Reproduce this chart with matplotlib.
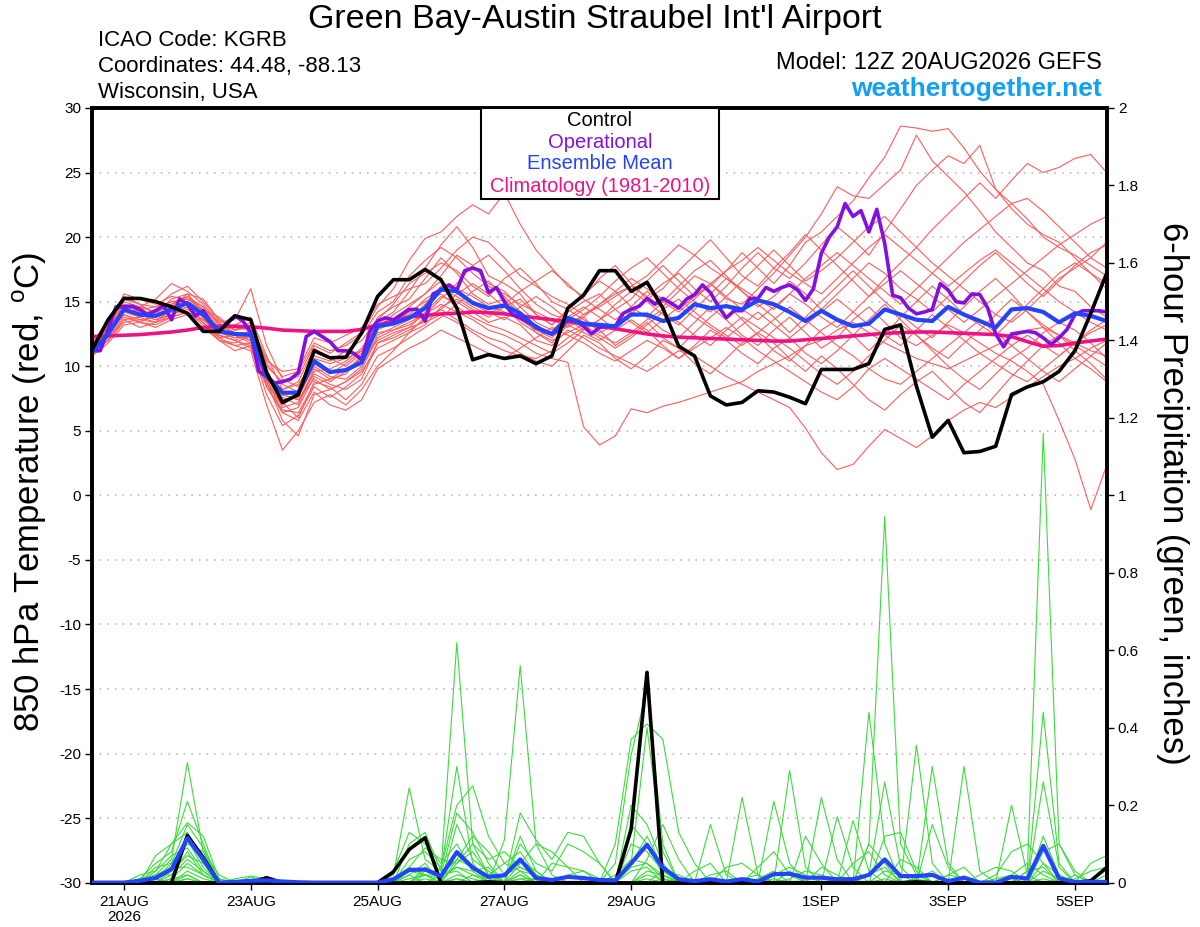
import numpy as np
import pandas as pd
import matplotlib
matplotlib.use("Agg")
import matplotlib.pyplot as plt
from matplotlib.patches import Rectangle

plt.rcParams['font.family'] = ['Liberation Sans', 'DejaVu Sans']
plt.rcParams['axes.unicode_minus'] = False

# time axis: GEFS 12Z 20AUG2026 run, 6-hourly (operational 3-hourly)
times = pd.date_range("2026-08-20 12:00", periods=65, freq="6h")
times_op = pd.date_range("2026-08-20 12:00", periods=129, freq="3h")

tick_times = pd.to_datetime(["2026-08-21", "2026-08-23", "2026-08-25", "2026-08-27",
                             "2026-08-29", "2026-09-01", "2026-09-03", "2026-09-05"])
tick_labels = ["21AUG\n2026", "23AUG", "25AUG", "27AUG", "29AUG", "1SEP", "3SEP", "5SEP"]

# ---- 850 hPa temperature (C) ----
control_t = [11.3, 13.6, 15.25, 15.25, 15.0, 14.6, 14.1, 12.7, 12.7, 13.9,
             13.6, 9.5, 7.2, 7.8, 11.2, 10.65, 10.7, 12.6, 15.4, 16.7,
             16.7, 17.5, 16.7, 14.5, 10.5, 10.9, 10.6, 10.8, 10.2, 10.8,
             14.5, 15.5, 17.4, 17.4, 15.8, 16.5, 14.5, 11.55, 10.8, 7.7,
             7.0, 7.2, 8.1, 8.0, 7.6, 7.1, 9.75, 9.75, 9.75, 10.2,
             12.85, 13.2, 8.45, 4.5, 5.8, 3.3, 3.4, 3.8, 7.8, 8.4,
             8.8, 9.6, 11.2, 14.1, 17.2]

mean_t = [11.1, 12.5, 14.4, 14.0, 13.9, 14.4, 14.9, 14.0, 12.7, 12.5,
          12.45, 9.2, 7.95, 7.95, 10.4, 9.55, 9.7, 10.3, 13.1, 13.3,
          13.75, 14.5, 15.95, 15.8, 14.9, 14.5, 14.7, 14.1, 13.0, 12.5,
          13.75, 13.3, 13.2, 13.1, 14.0, 14.0, 13.5, 13.75, 14.8, 14.5,
          14.65, 14.4, 15.1, 14.8, 14.2, 13.5, 14.3, 13.6, 13.1, 13.3,
          14.4, 14.0, 13.6, 13.5, 14.6, 14.0, 13.5, 13.0, 14.4, 14.5,
          14.2, 13.4, 14.1, 13.9, 13.5]

clim_t = [12.3, 12.35, 12.4, 12.45, 12.55, 12.65, 12.8, 13.0, 13.1, 13.1,
          13.05, 12.95, 12.8, 12.75, 12.7, 12.7, 12.7, 12.85, 13.2, 13.5,
          13.8, 13.95, 14.05, 14.1, 14.2, 14.15, 14.05, 13.9, 13.75, 13.6,
          13.45, 13.3, 13.1, 12.9, 12.7, 12.5, 12.35, 12.25, 12.2, 12.15,
          12.1, 12.05, 12.0, 11.95, 11.95, 12.05, 12.15, 12.25, 12.35, 12.45,
          12.55, 12.6, 12.65, 12.65, 12.6, 12.55, 12.5, 12.45, 12.3, 11.9,
          11.55, 11.6, 11.8, 11.95, 12.1]

oper_t = [11.2, 11.2, 12.85, 14.6, 14.6, 14.65, 14.4, 14.0, 14.3, 14.7,
          13.6, 15.2, 14.8, 13.9, 14.3, 13.4, 12.7, 13.4, 13.9, 13.5,
          12.6, 9.6, 9.2, 8.7, 8.8, 9.0, 9.5, 12.3, 12.7, 12.3,
          11.9, 11.2, 11.2, 11.0, 10.5, 12.7, 13.5, 13.75, 13.6, 14.0,
          14.4, 14.4, 13.5, 15.6, 15.9, 16.3, 15.9, 17.4, 17.6, 17.4,
          15.7, 16.1, 15.0, 14.0, 13.75, 13.4, 13.1, 12.7, 12.5, 12.85,
          13.6, 13.5, 13.1, 12.5, 13.0, 13.1, 13.1, 14.1, 14.4, 14.65,
          15.25, 14.8, 15.25, 14.9, 14.5, 15.2, 15.55, 16.3, 15.7, 14.65,
          13.75, 14.3, 14.3, 15.25, 15.25, 16.1, 15.8, 16.1, 16.3, 15.9,
          15.1, 16.0, 18.75, 20.0, 20.8, 22.6, 21.6, 22.05, 20.4, 22.15,
          19.5, 15.5, 15.3, 14.5, 14.06, 14.2, 14.4, 16.4, 15.9, 15.0,
          14.9, 15.6, 15.55, 14.5, 12.5, 11.5, 12.5, 12.6, 12.7, 12.6,
          12.2, 11.7, 12.2, 12.85, 14.0, 14.3, 14.3, 14.3, 14.2]

t_m01 = [11.0, 12.8, 14.8, 14.2, 14.0, 15.2, 15.6, 14.2, 12.4, 12.0,
         12.6, 9.0, 6.8, 7.2, 9.8, 9.0, 9.4, 10.8, 13.8, 14.6,
         15.2, 16.8, 18.4, 17.2, 15.6, 14.8, 15.2, 14.0, 12.6, 11.8,
         13.2, 14.0, 14.8, 15.6, 16.2, 15.4, 14.6, 15.8, 17.0, 16.4,
         15.2, 14.8, 16.0, 17.2, 18.6, 20.0, 21.8, 23.9, 23.2, 23.0,
         24.1, 25.2, 27.9, 25.9, 24.7, 23.5, 22.0, 20.4, 19.2, 18.0,
         17.4, 16.2, 15.8, 14.6, 13.8]
t_m02 = [11.4, 13.2, 15.0, 14.6, 14.2, 14.8, 15.4, 14.6, 13.2, 12.8,
         13.4, 10.2, 8.6, 8.0, 10.6, 10.2, 10.6, 11.2, 13.4, 14.2,
         15.8, 17.6, 19.4, 20.8, 19.2, 17.0, 16.4, 15.6, 14.0, 13.2,
         14.2, 15.0, 15.6, 14.4, 15.2, 16.6, 17.8, 16.6, 15.4, 16.2,
         17.4, 18.8, 17.6, 16.4, 17.8, 19.6, 20.4, 21.6, 22.8, 24.6,
         26.2, 28.6, 28.45, 28.2, 28.4, 26.9, 25.1, 23.7, 22.2, 21.0,
         20.2, 19.6, 18.4, 17.2, 16.0]
t_m03 = [11.2, 12.4, 14.0, 13.6, 13.8, 14.2, 14.6, 13.4, 12.2, 12.4,
         12.0, 8.4, 6.4, 6.8, 9.2, 8.6, 8.2, 9.0, 11.8, 12.4,
         13.0, 14.2, 15.4, 15.0, 14.2, 13.4, 13.8, 13.2, 12.0, 11.6,
         12.8, 12.2, 11.4, 10.8, 10.2, 9.6, 10.4, 11.2, 10.8, 10.0,
         9.2, 8.6, 8.0, 7.4, 6.8, 5.2, 3.3, 2.0, 2.4, 3.8,
         5.1, 4.4, 3.7, 4.6, 5.8, 6.6, 7.2, 6.8, 7.6, 8.4,
         9.2, 10.0, 10.6, 11.4, 12.0]
t_m04 = [11.6, 13.0, 14.6, 14.0, 13.6, 14.0, 14.4, 13.6, 12.8, 13.2,
         13.8, 10.8, 8.2, 8.6, 10.4, 9.6, 9.8, 10.6, 12.6, 12.8,
         13.4, 14.0, 14.8, 14.2, 13.6, 12.8, 12.4, 11.8, 11.0, 10.6,
         10.3, 5.3, 3.9, 4.6, 6.7, 6.4, 6.9, 7.2, 7.6, 8.0,
         8.4, 8.8, 9.6, 10.2, 10.8, 11.6, 12.0, 12.8, 13.4, 12.6,
         11.8, 11.2, 10.6, 10.2, 9.8, 10.4, 11.0, 11.6, 12.2, 12.8,
         13.0, 12.4, 11.8, 11.2, 10.8]
t_m05 = [11.0, 12.0, 13.6, 13.8, 14.4, 15.0, 15.2, 14.4, 13.0, 12.6,
         12.2, 9.6, 7.4, 7.6, 10.0, 9.2, 9.0, 10.0, 12.4, 13.0,
         13.6, 14.8, 16.2, 16.0, 15.4, 14.6, 14.2, 13.6, 12.8, 12.2,
         13.4, 13.8, 12.6, 13.2, 14.2, 13.8, 12.8, 12.2, 13.4, 14.6,
         13.6, 12.4, 11.6, 12.8, 13.8, 12.6, 11.4, 12.2, 13.6, 14.6,
         13.4, 12.2, 11.6, 12.4, 13.2, 12.6, 11.8, 11.0, 10.4, 9.6,
         8.6, 5.8, 2.8, -1.1, 2.3]
t_m06 = [11.8, 13.6, 15.4, 14.8, 14.6, 15.6, 16.2, 15.0, 13.6, 13.0,
         12.8, 10.0, 8.8, 9.2, 11.6, 11.0, 11.8, 12.6, 14.6, 16.0,
         18.2, 19.9, 20.4, 21.6, 22.5, 21.8, 23.4, 21.0, 19.0, 17.6,
         16.2, 15.4, 16.8, 17.8, 16.4, 15.2, 16.0, 17.4, 18.6, 19.8,
         18.4, 17.0, 16.2, 17.6, 18.8, 20.2, 19.0, 17.8, 16.6, 15.4,
         16.8, 18.0, 19.2, 20.6, 21.8, 23.0, 24.2, 23.0, 24.4, 25.7,
         25.0, 25.4, 26.1, 26.4, 25.0]
t_m07 = [11.2, 12.6, 14.2, 14.4, 14.6, 15.0, 15.0, 14.0, 12.6, 12.2,
         12.4, 9.4, 7.6, 7.0, 9.6, 9.8, 10.4, 11.4, 13.2, 13.6,
         14.6, 15.6, 17.0, 18.6, 17.8, 16.4, 15.8, 14.6, 13.4, 12.8,
         13.8, 14.6, 13.8, 12.8, 14.0, 15.4, 16.4, 17.2, 16.0, 15.0,
         16.2, 17.6, 18.8, 17.6, 16.8, 18.0, 19.4, 20.8, 19.8, 18.6,
         20.4, 22.2, 24.0, 25.2, 26.3, 25.7, 27.1, 23.7, 22.6, 21.4,
         20.0, 19.2, 18.6, 17.8, 17.0]
t_m08 = [10.9, 12.2, 13.8, 13.4, 13.2, 13.8, 14.2, 13.2, 12.0, 11.6,
         11.8, 8.8, 5.8, 4.6, 7.8, 8.2, 8.8, 9.6, 11.4, 12.0,
         12.6, 13.2, 14.6, 15.2, 14.4, 13.8, 14.6, 15.2, 14.0, 13.2,
         14.4, 13.6, 12.8, 11.6, 12.4, 13.4, 12.2, 11.4, 12.6, 13.8,
         14.8, 13.6, 12.4, 11.2, 10.4, 11.6, 12.8, 13.6, 12.4, 11.2,
         12.4, 13.8, 15.0, 16.2, 15.2, 14.0, 13.2, 12.4, 13.6, 14.8,
         16.0, 17.2, 18.0, 17.2, 16.4]
t_m09 = [11.4, 12.6, 14.2, 13.8, 13.4, 14.6, 15.0, 13.8, 12.2, 11.6,
         11.2, 7.0, 3.5, 5.0, 7.2, 7.8, 7.0, 8.2, 10.0, 11.2,
         12.6, 13.8, 14.4, 13.6, 12.8, 12.2, 11.8, 11.0, 10.4, 10.0,
         11.2, 12.4, 11.8, 10.6, 9.8, 10.8, 12.0, 11.4, 10.2, 9.4,
         10.6, 11.8, 12.6, 11.8, 10.6, 9.6, 10.8, 9.8, 8.6, 7.4,
         6.6, 7.8, 8.8, 9.6, 8.4, 7.2, 6.4, 7.8, 9.2, 10.4,
         11.6, 12.4, 11.2, 10.2, 9.0]
t_m10 = [11.6, 13.4, 15.2, 14.8, 14.0, 14.4, 14.8, 14.4, 13.4, 13.6,
         16.0, 11.6, 9.0, 8.4, 10.8, 10.4, 11.2, 12.0, 13.6, 14.8,
         16.4, 17.2, 18.0, 17.4, 16.2, 15.4, 16.8, 17.6, 16.4, 15.0,
         14.4, 15.6, 16.6, 15.8, 14.6, 13.8, 15.0, 16.2, 17.4, 18.2,
         17.0, 15.8, 14.6, 15.4, 16.6, 15.6, 14.4, 15.6, 16.8, 18.0,
         17.2, 16.0, 15.2, 14.2, 15.4, 16.6, 17.8, 18.8, 17.6, 16.4,
         15.4, 16.6, 17.8, 18.8, 19.4]
t_m11 = [11.0, 12.4, 14.4, 14.6, 15.2, 16.4, 15.8, 14.8, 13.4, 12.4,
         11.8, 9.2, 7.8, 7.4, 9.4, 8.8, 9.6, 10.8, 13.0, 14.0,
         14.8, 15.6, 16.6, 15.8, 14.8, 14.2, 13.6, 14.6, 15.4, 14.6,
         13.6, 12.8, 13.6, 14.8, 15.8, 15.0, 14.0, 13.2, 14.4, 15.6,
         16.8, 15.8, 14.8, 13.8, 12.6, 13.8, 15.0, 16.2, 17.4, 16.2,
         15.0, 14.0, 13.0, 12.2, 13.4, 14.6, 15.8, 16.8, 15.6, 14.2,
         13.0, 11.8, 10.6, 9.8, 8.8]
t_m12 = [11.3, 12.2, 13.6, 13.0, 13.4, 14.0, 14.6, 13.8, 12.6, 12.2,
         12.8, 9.8, 7.2, 6.0, 8.8, 8.4, 7.4, 8.6, 10.8, 11.4,
         12.2, 13.0, 13.8, 14.8, 15.8, 16.6, 15.4, 14.2, 13.0, 12.4,
         13.2, 12.6, 12.0, 12.8, 13.6, 12.8, 11.6, 10.6, 11.6, 12.8,
         12.0, 11.0, 10.2, 11.4, 12.2, 11.0, 10.2, 11.2, 12.4, 13.6,
         14.8, 13.6, 12.4, 11.4, 10.6, 11.8, 12.8, 14.0, 15.2, 14.2,
         13.2, 12.4, 11.6, 10.8, 10.0]
t_m13 = [11.5, 13.0, 15.6, 15.2, 14.8, 15.4, 15.2, 14.6, 13.2, 12.6,
         12.2, 9.0, 7.8, 7.4, 9.0, 8.2, 8.8, 9.8, 12.2, 12.8,
         13.2, 14.0, 15.2, 16.4, 17.8, 18.6, 17.4, 16.0, 14.8, 14.0,
         13.6, 14.4, 15.4, 16.6, 17.6, 18.4, 17.2, 16.0, 15.0, 14.2,
         15.4, 16.6, 17.8, 19.0, 17.8, 16.6, 17.4, 18.4, 19.6, 20.8,
         21.6, 20.4, 19.2, 18.0, 17.0, 16.0, 15.0, 14.0, 13.4, 14.4,
         15.6, 16.8, 17.6, 18.4, 19.6]
t_m14 = [11.1, 12.0, 13.4, 13.6, 13.4, 13.8, 14.2, 13.6, 12.4, 12.0,
         11.4, 8.4, 6.6, 6.4, 8.6, 9.0, 9.8, 10.4, 12.0, 12.6,
         13.0, 13.4, 14.0, 13.4, 12.6, 11.8, 11.2, 10.8, 10.6, 11.2,
         12.2, 13.0, 12.2, 11.4, 12.2, 13.2, 14.2, 13.4, 12.4, 11.6,
         12.8, 13.8, 13.0, 12.2, 11.4, 10.4, 9.4, 8.6, 9.6, 10.8,
         12.0, 13.2, 12.4, 11.2, 10.0, 9.0, 8.2, 9.4, 10.6, 11.4,
         12.6, 13.4, 12.8, 11.8, 10.6]
t_m15 = [11.7, 13.4, 14.8, 14.2, 13.8, 14.6, 15.6, 15.2, 13.6, 12.8,
         13.0, 10.4, 9.6, 9.8, 12.2, 11.8, 12.4, 13.0, 14.8, 15.4,
         16.0, 16.4, 17.6, 19.0, 20.0, 19.6, 18.4, 17.0, 16.2, 15.4,
         14.8, 14.0, 14.6, 15.4, 16.2, 17.0, 18.2, 19.4, 18.6, 17.6,
         16.8, 16.0, 15.2, 14.4, 15.6, 16.8, 17.8, 18.8, 17.8, 16.8,
         15.8, 14.8, 16.0, 17.2, 18.4, 19.6, 20.6, 21.6, 22.6, 23.0,
         22.0, 20.8, 19.6, 18.4, 17.6]
t_m16 = [10.8, 11.8, 13.2, 13.4, 14.0, 14.4, 14.2, 13.4, 12.0, 11.2,
         11.6, 9.0, 6.4, 5.8, 8.0, 7.0, 6.6, 7.4, 9.8, 10.6,
         11.4, 12.0, 12.8, 12.2, 11.6, 11.0, 10.6, 11.4, 12.2, 13.0,
         12.4, 11.8, 11.0, 10.4, 11.2, 12.0, 11.4, 10.6, 11.4, 12.2,
         13.0, 12.2, 11.2, 10.4, 9.6, 8.8, 8.0, 7.4, 8.4, 9.8,
         10.6, 9.8, 9.0, 8.2, 7.4, 8.6, 9.6, 10.6, 11.6, 12.4,
         11.6, 10.8, 11.8, 12.8, 13.6]
t_m17 = [11.2, 12.8, 14.4, 14.0, 14.4, 14.8, 15.4, 14.2, 12.8, 12.6,
         12.0, 8.6, 7.0, 7.8, 10.2, 9.4, 10.2, 11.2, 13.2, 13.6,
         14.0, 15.2, 16.0, 15.4, 14.6, 14.0, 14.8, 15.8, 16.6, 17.4,
         16.4, 15.2, 14.4, 13.6, 14.6, 15.8, 15.0, 14.2, 15.2, 16.4,
         15.4, 14.4, 13.6, 14.6, 15.6, 14.8, 13.8, 13.0, 14.2, 15.4,
         16.4, 17.4, 16.4, 15.4, 14.4, 13.4, 14.4, 15.4, 16.4, 17.4,
         18.4, 19.4, 20.2, 21.0, 21.6]
t_m18 = [11.4, 12.4, 14.0, 13.4, 13.0, 13.6, 14.0, 13.0, 12.0, 11.8,
         12.4, 9.4, 8.2, 8.8, 11.4, 10.6, 10.0, 11.0, 12.8, 13.4,
         14.2, 15.0, 15.6, 14.6, 13.8, 13.2, 12.8, 12.2, 11.6, 11.0,
         11.8, 12.8, 13.6, 14.4, 13.4, 12.6, 13.6, 14.6, 13.8, 13.0,
         12.2, 13.2, 14.2, 13.2, 12.2, 13.2, 14.2, 15.2, 14.2, 13.2,
         12.4, 11.6, 12.8, 14.0, 13.0, 12.0, 11.0, 10.2, 9.4, 8.8,
         9.8, 10.8, 11.8, 12.6, 13.2]
t_m19 = [11.0, 12.6, 14.6, 14.0, 13.6, 14.2, 14.8, 13.8, 12.4, 12.0,
         11.6, 7.8, 5.4, 6.2, 8.4, 7.6, 8.4, 9.4, 11.8, 12.2,
         12.8, 13.6, 14.4, 15.6, 16.4, 15.6, 14.6, 13.4, 12.6, 12.0,
         12.6, 13.2, 12.4, 11.8, 12.6, 13.6, 14.4, 15.2, 14.2, 13.2,
         12.4, 11.6, 12.6, 13.6, 14.6, 13.6, 12.6, 11.6, 10.8, 9.8,
         9.0, 8.6, 9.6, 10.6, 11.6, 12.6, 13.6, 12.6, 11.6, 10.6,
         9.6, 8.8, 9.8, 10.8, 11.8]
t_m20 = [11.3, 13.0, 14.8, 14.6, 14.2, 14.6, 15.0, 14.4, 13.8, 12.8,
         13.2, 10.6, 9.2, 9.6, 11.8, 11.2, 11.6, 12.4, 14.2, 15.0,
         17.0, 18.2, 19.2, 18.4, 17.2, 16.2, 15.6, 14.8, 14.2, 13.6,
         13.0, 13.8, 14.8, 15.8, 16.8, 16.0, 15.2, 14.4, 15.4, 16.4,
         17.4, 18.2, 19.2, 18.2, 17.2, 16.4, 15.6, 16.8, 18.0, 19.2,
         20.2, 19.2, 18.2, 17.2, 16.2, 17.2, 18.2, 19.0, 18.0, 17.0,
         16.0, 15.0, 14.2, 13.4, 12.8]

# ---- 6-hour precipitation (inches) ----
control_p = [0, 0, 0, 0, 0, 0, 0.122, 0.065, 0, 0,
             0, 0.013, 0, 0, 0, 0, 0, 0, 0, 0.028,
             0.086, 0.116, 0, 0, 0, 0.002, 0, 0, 0, 0,
             0, 0, 0, 0, 0.138, 0.543, 0, 0, 0, 0,
             0, 0, 0, 0, 0, 0, 0, 0, 0, 0,
             0, 0, 0.002, 0, 0, 0, 0, 0, 0, 0,
             0, 0, 0, 0.005, 0.039]

mean_p = [0, 0, 0, 0.005, 0.012, 0.035, 0.115, 0.06, 0, 0.002,
          0.005, 0.006, 0.003, 0.001, 0, 0, 0, 0, 0, 0.009,
          0.033, 0.034, 0.017, 0.079, 0.039, 0.015, 0.019, 0.06, 0.012, 0.007,
          0.015, 0.012, 0.007, 0.006, 0.05, 0.098, 0.039, 0.009, 0.004, 0.009,
          0.003, 0.009, 0.003, 0.022, 0.023, 0.013, 0.013, 0.009, 0.009, 0.02,
          0.06, 0.017, 0.017, 0.02, 0.004, 0.013, 0, 0, 0.015, 0.011,
          0.095, 0.011, 0.002, 0.002, 0.002]

# members: {6-h step index: inches}, all other steps dry
p_m01 = {4: 0.02, 5: 0.06, 6: 0.31, 7: 0.08, 19: 0.02, 20: 0.245, 21: 0.06, 22: 0.03,
         23: 0.62, 24: 0.1, 25: 0.02, 26: 0.05, 27: 0.08, 28: 0.02, 33: 0.1, 34: 0.37,
         35: 0.41, 36: 0.37, 37: 0.13, 38: 0.05, 44: 0.03, 49: 0.1, 50: 0.946, 51: 0.1,
         52: 0.02, 60: 0.05, 61: 0.02}
p_m02 = {3: 0.01, 4: 0.05, 5: 0.08, 6: 0.21, 7: 0.1, 20: 0.1, 21: 0.13, 22: 0.03,
         23: 0.3, 24: 0.05, 26: 0.11, 27: 0.56, 28: 0.1, 29: 0.02, 33: 0.05, 34: 0.33,
         35: 0.5, 36: 0.1, 43: 0.21, 44: 0.05, 49: 0.02, 50: 0.26, 51: 0.04, 59: 0.03,
         60: 1.16, 61: 0.1, 62: 0.02}
p_m03 = {4: 0.07, 5: 0.1, 6: 0.155, 7: 0.12, 8: 0.01, 20: 0.06, 21: 0.08, 22: 0.04,
         23: 0.2, 24: 0.25, 25: 0.12, 26: 0.05, 27: 0.03, 34: 0.15, 35: 0.1, 36: 0.02,
         39: 0.15, 40: 0.02, 46: 0.22, 47: 0.06, 52: 0.355, 53: 0.05, 60: 0.44, 61: 0.05}
p_m04 = {4: 0.04, 5: 0.05, 6: 0.15, 7: 0.09, 9: 0.01, 10: 0.017, 11: 0.01, 21: 0.04,
         22: 0.02, 23: 0.18, 24: 0.13, 25: 0.05, 27: 0.18, 28: 0.11, 29: 0.06, 30: 0.13,
         31: 0.12, 32: 0.05, 34: 0.2, 35: 0.15, 36: 0.05, 41: 0.22, 42: 0.02, 49: 0.44,
         50: 0.1, 55: 0.3, 56: 0.03, 60: 0.26, 61: 0.04}
p_m05 = {3: 0.02, 4: 0.03, 5: 0.1, 6: 0.13, 7: 0.05, 20: 0.03, 21: 0.02, 23: 0.15,
         24: 0.06, 25: 0.03, 27: 0.1, 28: 0.05, 29: 0.03, 30: 0.1, 31: 0.08, 32: 0.05,
         34: 0.05, 35: 0.4, 36: 0.08, 44: 0.29, 45: 0.04, 53: 0.3, 54: 0.05, 58: 0.2,
         59: 0.02}
p_m06 = {4: 0.02, 5: 0.04, 6: 0.12, 7: 0.06, 10: 0.015, 19: 0.03, 20: 0.13, 21: 0.1,
         22: 0.05, 23: 0.1, 24: 0.03, 25: 0.04, 27: 0.12, 28: 0.03, 34: 0.1, 35: 0.08,
         36: 0.03, 47: 0.17, 48: 0.04, 50: 0.12, 51: 0.13, 52: 0.03, 60: 0.12, 61: 0.02}
p_m07 = {5: 0.03, 6: 0.11, 7: 0.04, 20: 0.04, 21: 0.09, 22: 0.06, 23: 0.05, 24: 0.08,
         25: 0.02, 27: 0.05, 28: 0.1, 29: 0.08, 30: 0.04, 35: 0.06, 36: 0.15, 37: 0.06,
         45: 0.12, 46: 0.05, 48: 0.16, 49: 0.03, 53: 0.15, 54: 0.04, 63: 0.05, 64: 0.07}
p_m08 = {4: 0.01, 5: 0.05, 6: 0.1, 7: 0.08, 8: 0.02, 22: 0.02, 23: 0.06, 24: 0.12,
         25: 0.08, 26: 0.02, 27: 0.04, 28: 0.02, 34: 0.05, 35: 0.12, 36: 0.04, 38: 0.03,
         39: 0.05, 42: 0.04, 43: 0.08, 44: 0.02, 49: 0.1, 50: 0.05, 57: 0.02, 58: 0.08,
         59: 0.1, 60: 0.05}
p_m09 = {4: 0.03, 5: 0.07, 6: 0.09, 7: 0.03, 20: 0.02, 21: 0.05, 23: 0.05, 24: 0.1,
         25: 0.06, 26: 0.08, 27: 0.04, 28: 0.02, 34: 0.04, 35: 0.05, 36: 0.02, 40: 0.04,
         41: 0.05, 42: 0.02, 46: 0.04, 47: 0.02, 51: 0.06, 52: 0.04, 60: 0.08, 61: 0.1,
         62: 0.03}
p_m10 = {5: 0.02, 6: 0.08, 7: 0.02, 21: 0.03, 22: 0.02, 23: 0.04, 24: 0.02, 27: 0.02,
         29: 0.05, 30: 0.04, 31: 0.03, 35: 0.03, 36: 0.02, 43: 0.02, 44: 0.04, 45: 0.02,
         50: 0.03, 51: 0.02, 56: 0.02, 57: 0.04, 58: 0.03, 62: 0.01, 63: 0.03, 64: 0.04}
p_m11 = {3: 0.01, 4: 0.02, 5: 0.03, 6: 0.07, 7: 0.05, 8: 0.01, 20: 0.02, 23: 0.06,
         24: 0.04, 27: 0.03, 28: 0.02, 33: 0.02, 34: 0.06, 35: 0.05, 36: 0.01, 42: 0.01,
         43: 0.03, 48: 0.05, 49: 0.08, 50: 0.02, 54: 0.02, 55: 0.04, 59: 0.03, 60: 0.04}
p_m12 = {4: 0.02, 5: 0.02, 6: 0.06, 7: 0.03, 19: 0.01, 20: 0.04, 21: 0.02, 22: 0.02,
         23: 0.03, 26: 0.02, 27: 0.06, 28: 0.03, 30: 0.02, 31: 0.03, 32: 0.01, 36: 0.03,
         37: 0.02, 44: 0.01, 45: 0.03, 46: 0.02, 52: 0.01, 53: 0.03, 62: 0.02, 64: 0.02}
p_m13 = {5: 0.01, 6: 0.05, 7: 0.02, 11: 0.01, 21: 0.02, 22: 0.01, 23: 0.04, 24: 0.03,
         27: 0.02, 34: 0.03, 35: 0.04, 39: 0.02, 40: 0.03, 49: 0.02, 50: 0.04, 57: 0.01,
         58: 0.02, 59: 0.05, 60: 0.02}
p_m14 = {4: 0.01, 5: 0.04, 6: 0.04, 7: 0.02, 20: 0.01, 21: 0.02, 23: 0.02, 24: 0.01,
         27: 0.01, 28: 0.01, 35: 0.02, 36: 0.01, 41: 0.01, 42: 0.02, 54: 0.02, 55: 0.01,
         60: 0.03, 61: 0.01}
p_m15 = {6: 0.03, 7: 0.01, 23: 0.01, 27: 0.01, 35: 0.01, 50: 0.01}
p_m16 = {5: 0.01, 6: 0.02, 24: 0.02, 25: 0.01, 43: 0.01, 60: 0.01}
p_m17 = {6: 0.02, 21: 0.01, 28: 0.01, 36: 0.01, 52: 0.01}
p_m18 = {4: 0.01, 6: 0.01, 23: 0.01, 47: 0.01, 58: 0.01}
p_m19 = {}
p_m20 = {6: 0.01}

temp_members = [t_m01, t_m02, t_m03, t_m04, t_m05, t_m06, t_m07, t_m08, t_m09, t_m10,
                t_m11, t_m12, t_m13, t_m14, t_m15, t_m16, t_m17, t_m18, t_m19, t_m20]
precip_members = [p_m01, p_m02, p_m03, p_m04, p_m05, p_m06, p_m07, p_m08, p_m09, p_m10,
                  p_m11, p_m12, p_m13, p_m14, p_m15, p_m16, p_m17, p_m18, p_m19, p_m20]

RED = "#ff5c5c"
GREEN = "#3cdc3c"
PURPLE = "#8410e0"
BLUE = "#2244ff"
PINK = "#ee1283"

fig = plt.figure(figsize=(12, 9.27), dpi=100)
ax = fig.add_axes([0.0769, 0.0478, 0.8453, 0.8357])
ax2 = ax.twinx()

# temperature side
for v in range(-25, 30, 5):
    ax.axhline(v, color="#b0b0b0", ls=(0, (1, 4)), lw=1.1, zorder=1)
for m in temp_members:
    ax.plot(times, m, color=RED, lw=0.8, zorder=2)
ax.plot(times, clim_t, color=PINK, lw=2.6, zorder=4)
ax.plot(times_op, oper_t, color=PURPLE, lw=2.6, zorder=5)
ax.plot(times, mean_t, color=BLUE, lw=3.0, zorder=6)
ax.plot(times, control_t, color="black", lw=2.6, zorder=7)

# precipitation side
for m in precip_members:
    vals = np.zeros(len(times))
    for k, v in m.items():
        vals[k] = v
    ax2.plot(times, vals, color=GREEN, lw=0.8, zorder=2)
ax2.plot(times, control_p, color="black", lw=2.6, zorder=4)
ax2.plot(times, mean_p, color=BLUE, lw=3.0, zorder=5)

ax.set_xlim(times[0], times[-1])
ax.set_ylim(-30, 30)
ax2.set_ylim(0, 2)
ax.set_yticks(range(-30, 31, 5))
ax2.set_yticks(np.arange(0, 2.01, 0.2))
ax2.set_yticklabels(["0", "0.2", "0.4", "0.6", "0.8", "1", "1.2", "1.4", "1.6", "1.8", "2"])
ax.set_xticks(tick_times)
ax.set_xticklabels(tick_labels, fontsize=11, linespacing=1.1)
ax.tick_params(axis="y", direction="out", length=5, width=1, labelsize=11, pad=3)
ax2.tick_params(axis="y", direction="out", length=5, width=1, labelsize=11, pad=3)
ax.tick_params(axis="x", direction="out", length=5, width=1, pad=4)
ax.xaxis.set_minor_locator(matplotlib.ticker.NullLocator())

for a in (ax, ax2):
    for s in a.spines.values():
        s.set_linewidth(2.6)

# legend box at top centre
ax2.add_patch(Rectangle((0.383, 0.883), 0.235, 0.117, transform=ax2.transAxes,
                        facecolor="white", edgecolor="black", lw=1.5, zorder=20))
legend_items = [("Control", "black", 0.9836), ("Operational", PURPLE, 0.9553),
                ("Ensemble Mean", BLUE, 0.9278), ("Climatology (1981-2010)", PINK, 0.899)]
for txt, col, yy in legend_items:
    ax2.text(0.5005, yy, txt, color=col, fontsize=14.5, ha="center", va="center",
             transform=ax2.transAxes, zorder=21)

# header texts
fig.text(0.496, 0.979, "Green Bay-Austin Straubel Int'l Airport", fontsize=24.5,
         ha="center", va="center")
fig.text(0.0817, 0.956, "ICAO Code: KGRB", fontsize=16, ha="left", va="center")
fig.text(0.0817, 0.928, "Coordinates: 44.48, -88.13", fontsize=16, ha="left", va="center")
fig.text(0.0817, 0.900, "Wisconsin, USA", fontsize=16, ha="left", va="center")
fig.text(0.918, 0.932, "Model: 12Z 20AUG2026 GEFS", fontsize=17, ha="right", va="center")
fig.text(0.918, 0.904, "weathertogether.net", fontsize=19, fontweight="bold",
         color="#12a0f5", ha="right", va="center")

fig.text(0.025, 0.469, "850 hPa Temperature (red, $^\\mathregular{o}$C)", fontsize=25,
         rotation=90, ha="center", va="center")
fig.text(0.977, 0.468, "6-hour Precipitation (green, inches)", fontsize=25,
         rotation=270, ha="center", va="center")

fig.savefig("out.png", dpi=100)
